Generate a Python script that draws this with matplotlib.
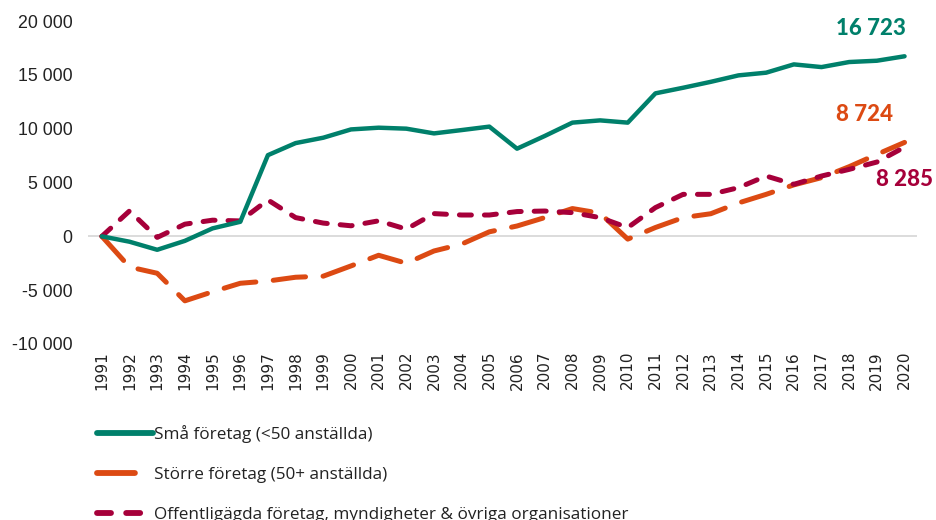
import matplotlib
matplotlib.use("Agg")
import matplotlib.pyplot as plt
from matplotlib.ticker import FuncFormatter, FixedLocator

years = list(range(1991, 2021))
sma = [0, -500, -1250, -420, 740, 1350, 7540, 8660, 9160, 9930, 10090, 10000,
       9560, 9870, 10190, 8140, 9320, 10560, 10770, 10560, 13280, 13800, 14350,
       14950, 15200, 15970, 15720, 16190, 16310, 16723]
storre = [0, -2850, -3430, -5990, -5150, -4360, -4150, -3800, -3700, -2750, -1760,
          -2500, -1360, -720, 420, 960, 1740, 2580, 2150, -260, 820, 1740, 2100,
          3100, 3900, 4780, 5450, 6470, 7610, 8724]
offentlig = [0, 2360, -100, 1130, 1500, 1430, 3380, 1740, 1230, 980, 1440, 670,
             2110, 1980, 1980, 2300, 2350, 2200, 1740, 810, 2670, 3900, 3900,
             4520, 5600, 4830, 5600, 6220, 6900, 8285]
labels = ["Små företag (<50 anställda)", "Större företag (50+ anställda)",
          "Offentligägda företag, myndigheter & övriga organisationer"]
yticks = [-10000, -5000, 0, 5000, 10000, 15000, 20000]

GREEN = "#00806B"
ORANGE = "#DC4A13"
CRIMSON = "#A6003A"

fig = plt.figure(figsize=(9.36, 5.2), dpi=100)
ax = fig.add_axes([88/936, 1-344/520, (917-88)/936, (344-21)/520])

ax.axhline(0, color="#d9d9d9", lw=1.3, zorder=1)
l1, = ax.plot(years, sma, color=GREEN, lw=3.2, solid_capstyle="round",
              solid_joinstyle="round", label=labels[0], zorder=4)
l2, = ax.plot(years, storre, color=ORANGE, lw=3.6, dashes=(6.5, 3.5),
              dash_capstyle="round", label=labels[1], zorder=3)
l3, = ax.plot(years, offentlig, color=CRIMSON, lw=3.6, dashes=(2.4, 2.6),
              dash_capstyle="round", label=labels[2], zorder=3)

ax.set_xlim(1990.5, 2020.45)
ax.set_ylim(-10000, 20000)
ax.xaxis.set_major_locator(FixedLocator(years))
ax.set_xticklabels([str(y) for y in years], rotation=90, fontsize=11,
                   family="DejaVu Sans", color="#222222")
ax.yaxis.set_major_locator(FixedLocator(yticks))
ax.yaxis.set_major_formatter(FuncFormatter(lambda v, p: f"{int(v):,}".replace(",", " ")))
for t in ax.get_yticklabels():
    t.set_fontfamily("Liberation Sans")
    t.set_fontsize(12.8)
    t.set_color("#222222")
ax.tick_params(axis="both", length=0)
ax.tick_params(axis="y", pad=11)
ax.tick_params(axis="x", pad=5)
for s in ax.spines.values():
    s.set_visible(False)

lab_kw = dict(fontsize=16, fontweight=900, family="Lato")
ax.text(years[-1] - 1.2, sma[-1] + 1650, f"{sma[-1]:,}".replace(",", " "),
        color=GREEN, ha="center", va="bottom", **lab_kw)
ax.text(years[-1] - 1.45, storre[-1] + 1650, f"{storre[-1]:,}".replace(",", " "),
        color=ORANGE, ha="center", va="bottom", **lab_kw)
ax.text(years[-1], offentlig[-1] - 3000, f"{offentlig[-1]:,}".replace(",", " "),
        color=CRIMSON, ha="center", va="center", **lab_kw)

leg = fig.legend(handles=[l1, l2, l3], loc="upper left",
                 bbox_to_anchor=(90/936, 1-418/520), frameon=False,
                 prop={"family": "Open Sans", "size": 12.3}, handlelength=3.3,
                 handletextpad=0.05, labelspacing=1.42, borderaxespad=0)
for t in leg.get_texts():
    t.set_color("#222222")
for h in leg.legend_handles:
    h.set_linewidth(4.2)

fig.savefig("out.png", dpi=100)
